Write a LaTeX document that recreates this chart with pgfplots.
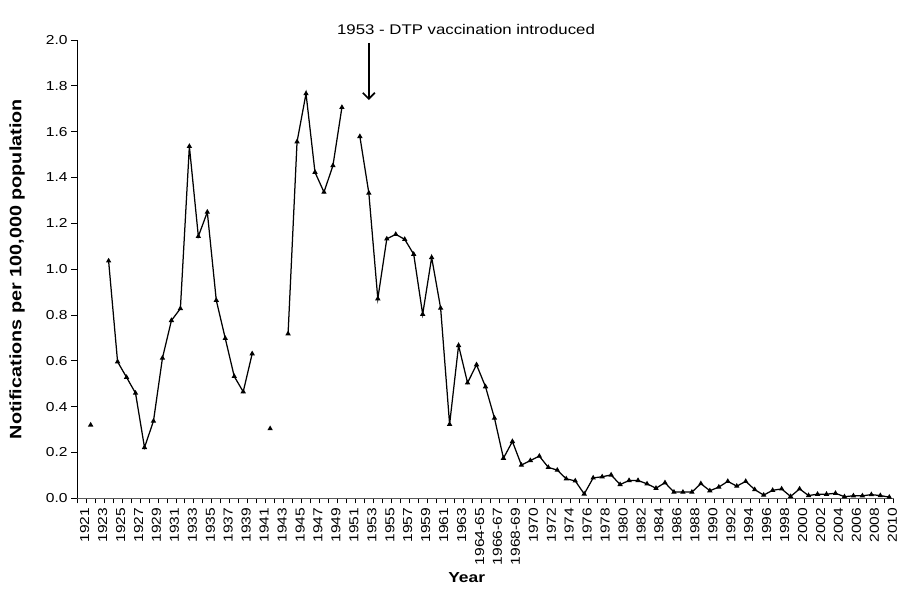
\documentclass[border=0pt]{standalone}
\usepackage{fontspec}
\setmainfont{Liberation Sans}
\newfontfamily\wide{Liberation Sans}[FakeStretch=1.2]
\usepackage{pgfplots}
\usepackage{pgfplotstable}
\pgfplotsset{compat=1.18}
\usetikzlibrary{arrows.meta}
\pgfplotstableread{
x y
0 nan
1 0.32
2 nan
3 1.036
4 0.596
5 0.528
6 0.459
7 0.222
8 0.337
9 0.612
10 0.776
11 0.828
12 1.536
13 1.143
14 1.249
15 0.864
16 0.698
17 0.532
18 0.465
19 0.631
20 nan
21 0.304
22 nan
23 0.718
24 1.556
25 1.766
26 1.423
27 1.336
28 1.452
29 1.706
30 nan
31 1.579
32 1.332
33 0.871
34 1.132
35 1.152
36 1.130
37 1.065
38 0.803
39 1.051
40 0.830
41 0.323
42 0.667
43 0.504
44 0.583
45 0.487
46 0.350
47 0.175
48 0.248
49 0.145
50 0.165
51 0.184
52 0.135
53 0.123
54 0.085
55 0.076
56 0.019
57 0.089
58 0.094
59 0.102
60 0.060
61 0.078
62 0.078
63 0.063
64 0.044
65 0.068
66 0.027
67 0.027
68 0.027
69 0.064
70 0.033
71 0.049
72 0.074
73 0.053
74 0.074
75 0.038
76 0.014
77 0.035
78 0.041
79 0.008
80 0.041
81 0.012
82 0.018
83 0.018
84 0.022
85 0.007
86 0.011
87 0.011
88 0.016
89 0.012
90 0.005
}\datatable
\begin{document}
\begin{tikzpicture}
\useasboundingbox (-77.2pt,-96.7pt) rectangle (821.8pt,498.3pt);
\begin{axis}[
  at={(0pt,0pt)}, anchor=south west,
  width=816.6pt, height=458.3pt, scale only axis,
  xmin=-0.5, xmax=90.5, ymin=0, ymax=2,
  clip=false,
  axis x line*=bottom, axis y line*=left,
  x axis line style={black!65, line width=1.1pt},
  y axis line style={black, line width=0.9pt},
  tick align=outside,
  xtick={0,2,...,90},
  xticklabels={1921,1923,1925,1927,1929,1931,1933,1935,1937,1939,1941,1943,1945,1947,1949,1951,1953,1955,1957,1959,1961,1963,1964-65,1966-67,1968-69,1970,1972,1974,1976,1978,1980,1982,1984,1986,1988,1990,1992,1994,1996,1998,2000,2002,2004,2006,2008,2010},
  minor xtick={-0.5,0.5,...,90.5},
  x tick style={black, line width=0.8pt},
  major x tick style={draw=none},
  minor tick length=5pt,
  ytick={0,0.2,0.4,0.6,0.8,1.0,1.2,1.4,1.6,1.8,2.0},
  y tick style={black, line width=0.8pt},
  major tick length=6pt,
  /pgf/number format/.cd, fixed, fixed zerofill, precision=1, assume math mode=true,
  /pgfplots/.cd,
  yticklabel style={font=\wide\fontsize{13}{15}\selectfont},
  xticklabel style={rotate=90, anchor=east, font=\wide\fontsize{13}{15}\selectfont, yshift=-3pt},
  xlabel={Year},
  xlabel style={at={(axis description cs:0.477,0)}, anchor=center, yshift=-79.7pt, font=\wide\fontsize{14.5}{16}\selectfont\bfseries},
  ylabel={Notifications per 100,000 population},
  ylabel style={at={(axis description cs:-0.0737,0.5)}, anchor=center, rotate=0, font=\wide\fontsize{16.5}{18}\selectfont\bfseries},
  unbounded coords=jump,
]
\addplot[black, line width=1.25pt, mark=triangle*, mark size=1.9pt, mark options={solid}] table[x=x, y=y] {\datatable};
\draw[-{Straight Barb[length=6pt,width=12pt]}, line width=1.7pt] (axis cs:32,1.987) -- (axis cs:32,1.738);
\node[font=\wide\fontsize{14}{16}\selectfont] at (axis cs:42.83,2.044) {1953 - DTP vaccination introduced};
\end{axis}
\end{tikzpicture}
\end{document}
